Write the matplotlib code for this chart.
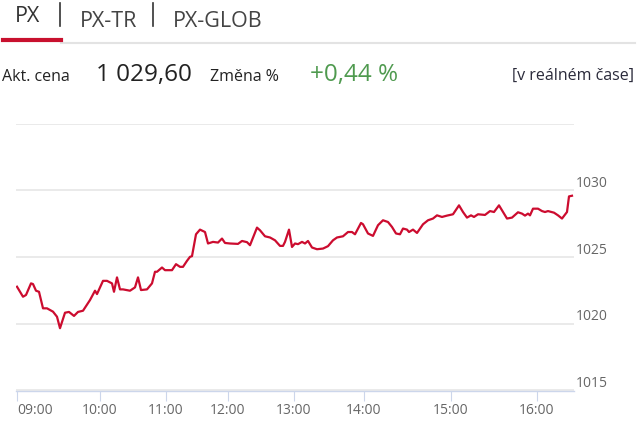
import matplotlib
matplotlib.use("Agg")
from matplotlib import pyplot as plt
from matplotlib.lines import Line2D

plt.rcParams['font.family'] = ['Open Sans', 'DejaVu Sans']

# PX index during the day, x = ordinal position of the sample (no gaps for missing minutes)
pos = [1, 7, 10, 15, 17, 20, 23, 27, 31, 37,
       41, 44, 49, 53, 58, 62, 67, 74, 79, 81,
       87, 91, 96, 98, 101, 104, 107, 114, 119, 122,
       125, 131, 136, 139, 141, 146, 149, 156, 160, 164,
       167, 171, 174, 176, 180, 184, 189, 192, 197, 202,
       206, 209, 214, 222, 226, 231, 234, 241, 244, 249,
       254, 259, 264, 267, 269, 273, 276, 279, 282, 286,
       289, 292, 296, 301, 307, 312, 317, 321, 327, 332,
       336, 339, 345, 347, 352, 357, 362, 367, 372, 376,
       380, 384, 387, 391, 393, 397, 401, 404, 407, 412,
       417, 421, 426, 431, 437, 443, 447, 451, 455, 458,
       462, 469, 474, 478, 483, 486, 491, 496, 502, 506,
       509, 512, 514, 517, 522, 526, 529, 532, 538, 542,
       546, 551, 553, 556]
px = [1022.78, 1022.03, 1022.16, 1023.03, 1022.98, 1022.48, 1022.40, 1021.16, 1021.16, 1020.91,
      1020.53, 1019.67, 1020.83, 1020.89, 1020.59, 1020.89, 1020.98, 1021.78, 1022.48, 1022.23,
      1023.22, 1023.22, 1023.03, 1022.40, 1023.48, 1022.58, 1022.58, 1022.48, 1022.73, 1023.48,
      1022.53, 1022.58, 1023.03, 1023.90, 1023.90, 1024.22, 1024.02, 1024.02, 1024.47, 1024.27,
      1024.27, 1024.72, 1025.02, 1025.07, 1026.71, 1027.06, 1026.88, 1026.02, 1026.14, 1026.09,
      1026.39, 1026.06, 1026.02, 1025.99, 1026.21, 1026.12, 1025.89, 1027.21, 1027.01, 1026.56,
      1026.47, 1026.26, 1025.84, 1025.84, 1026.14, 1027.06, 1025.76, 1026.02, 1025.97, 1026.14,
      1026.02, 1026.21, 1025.72, 1025.59, 1025.64, 1025.82, 1026.26, 1026.47, 1026.56, 1026.88,
      1026.88, 1026.71, 1027.56, 1027.46, 1026.77, 1026.59, 1027.39, 1027.76, 1027.63, 1027.26,
      1026.77, 1026.71, 1027.14, 1027.06, 1026.88, 1027.06, 1026.81, 1027.14, 1027.46, 1027.76,
      1027.89, 1028.13, 1028.01, 1028.11, 1028.21, 1028.88, 1028.38, 1027.96, 1028.13, 1028.01,
      1028.21, 1028.16, 1028.45, 1028.38, 1028.88, 1028.51, 1027.89, 1027.96, 1028.36, 1028.26,
      1028.11, 1028.26, 1028.13, 1028.63, 1028.63, 1028.45, 1028.38, 1028.45, 1028.33, 1028.13,
      1027.89, 1028.38, 1029.55, 1029.60]

tick_pos = [1, 84, 150, 212, 278, 348, 435, 521]
tick_labels = ['09:00', '10:00', '11:00', '12:00', '13:00', '14:00', '15:00', '16:00']
y_ticks = [1015, 1020, 1025, 1030, 1035]
y_labels = ['1015', '1020', '1025', '1030', '']

tabs = ['PX', 'PX-TR', 'PX-GLOB']
price = '1 029,60'
change = '+0,44 %'

W, H = 640, 424


def fx(x):
    return x / W


def fy(y):
    return 1 - y / H


fig = plt.figure(figsize=(6.4, 4.24), dpi=100)

# chart
ax = fig.add_axes([fx(16), fy(390.5), (574 - 16) / W, (390.5 - 123.7) / H])
ax.plot(pos, px, color='#cc0c2f', lw=1.6, solid_joinstyle='round')
ax.set_xlim(0, 558)
ax.set_ylim(1015, 1035)
ax.set_yticks(y_ticks)
ax.yaxis.grid(True, color='#e6e6e6', lw=1.2)
ax.set_axisbelow(True)
ax.tick_params(axis='y', length=0, labelleft=False)
for side in ['top', 'left', 'right']:
    ax.spines[side].set_visible(False)
ax.spines['bottom'].set_color('#ccd6eb')
ax.spines['bottom'].set_linewidth(1.0)
ax.set_xticks(tick_pos)
ax.set_xticklabels(tick_labels)
ax.tick_params(axis='x', length=7.5, width=0.8, color='#ccd6eb', pad=1.5,
               labelsize=10, labelcolor='#666666')
ax.get_xticklabels()[0].set_horizontalalignment('left')

for v, lab in zip(y_ticks, y_labels):
    ax.annotate(lab, xy=(1, v), xycoords=('axes fraction', 'data'),
                xytext=(2, 7), textcoords='offset pixels',
                ha='left', va='center', fontsize=10, color='#666666')

# tabs header
fig.text(fx(15), fy(22), tabs[0], fontsize=15.5, color='#333333', va='baseline')
fig.text(fx(80), fy(27), tabs[1], fontsize=15.5, color='#444444', va='baseline')
fig.text(fx(173), fy(27), tabs[2], fontsize=15.5, color='#444444', va='baseline')
for sx in [60, 153]:
    fig.add_artist(Line2D([fx(sx), fx(sx)], [fy(3), fy(26)], color='#333333',
                          lw=1.2, transform=fig.transFigure))
fig.add_artist(Line2D([fx(61), fx(635)], [fy(43), fy(43)], color='#e3e3e3',
                      lw=1.5, transform=fig.transFigure))
fig.add_artist(Line2D([fx(3), fx(61)], [fy(40), fy(40)], color='#c8102e',
                      lw=3, transform=fig.transFigure))

# price row
fig.text(fx(2), fy(81), 'Akt. cena', fontsize=11.5, color='#222222', va='baseline')
fig.text(fx(96), fy(81.5), price, fontsize=17.5, color='#222222', va='baseline')
fig.text(fx(210), fy(81), 'Změna %', fontsize=11.5, color='#222222', va='baseline')
fig.text(fx(310), fy(81.5), change, fontsize=17.5, color='#4f9a4f', va='baseline')
fig.text(fx(634), fy(80), '[v reálném čase]', ha='right', fontsize=11.5,
         color='#2a2a3a', va='baseline')

plt.savefig('out.png', dpi=100)
